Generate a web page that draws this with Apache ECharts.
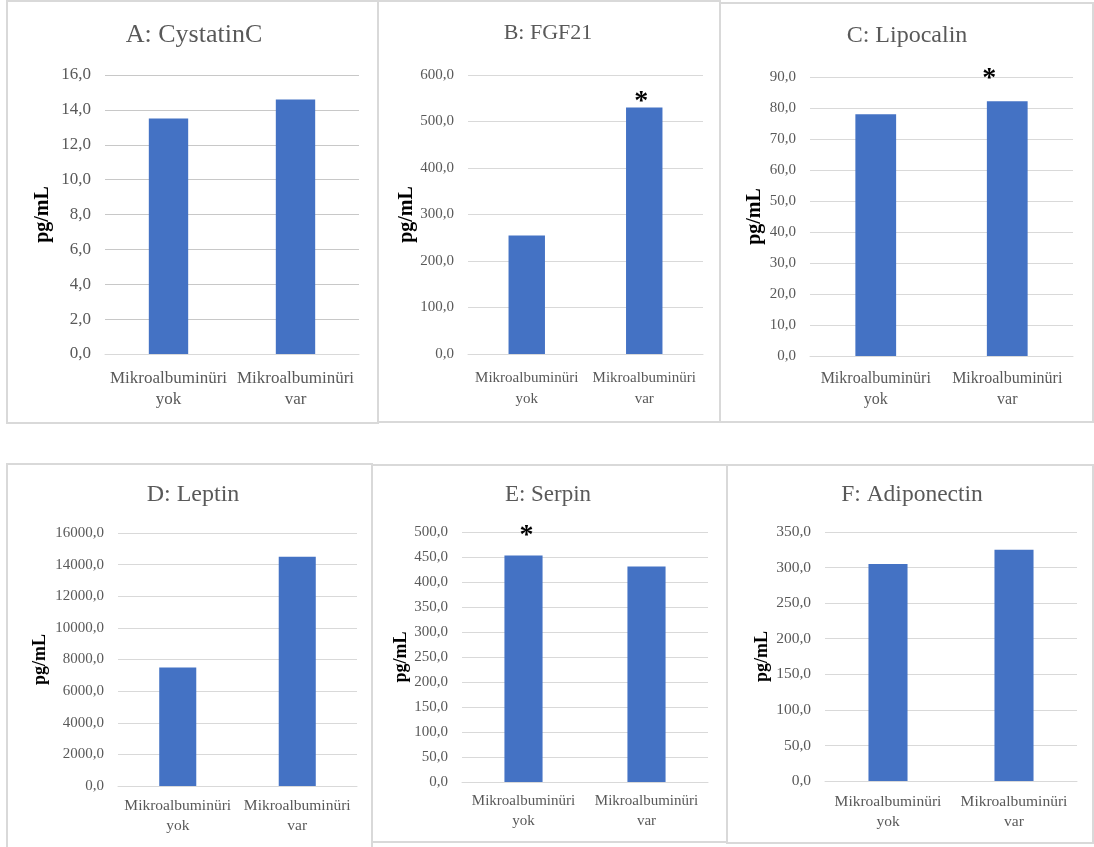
<!DOCTYPE html>
<html>
<head>
<meta charset="utf-8">
<script src="https://cdn.jsdelivr.net/npm/echarts@6/dist/echarts.min.js"></script>
<style>
html,body{margin:0;padding:0;background:#fff;}
#chart{width:1094px;height:847px;}
</style>
</head>
<body>
<div id="chart"></div>
<script>
// ---- data ----
const categories = ['Mikroalbuminüri\nyok', 'Mikroalbuminüri\nvar'];
const titles = ['A: CystatinC', 'B: FGF21', 'C: Lipocalin', 'D: Leptin', 'E: Serpin', 'F: Adiponectin'];
const cystatinC = [13.5, 14.6];
const fgf21 = [255, 530];
const lipocalin = [78.0, 82.2];
const leptin = [7500, 14500];
const serpin = [453, 431];
const adiponectin = [305, 325];
// significance marks (true = asterisk above bar)
const sigA = [false, false];
const sigB = [false, true];
const sigC = [false, true];
const sigD = [false, false];
const sigE = [true, false];
const sigF = [false, false];
// y-axis ticks: [max, interval]
const yMax = [16, 600, 90, 16000, 500, 350];
const yInterval = [2, 100, 10, 2000, 50, 50];
const yName = 'pg/mL';

const seriesValues = [cystatinC, fgf21, lipocalin, leptin, serpin, adiponectin];
const sigs = [sigA, sigB, sigC, sigD, sigE, sigF];

// ---- layout / style (not data) ----
const panels = [
  {box:[7,1,378,423],   grid:[105,75,254,279],  title:[194,35,26], tick:17, xl:17, xlh:21, xm:14, name:20, nameGap:52, star:{dist:-8, dx:-3}},
  {box:[378,1,720,422], grid:[468,75,235,279],  title:[548,33,22], tick:15, xl:15, xlh:21, xm:14, name:20, nameGap:46, star:{dist:-8, dx:-3}},
  {box:[720,3,1093,422],grid:[810,77,263,279],  title:[907,36,24], tick:15, xl:16, xlh:21, xm:12, name:20, nameGap:45, star:{dist:8, dx:-18}},
  {box:[7,464,372,852], grid:[118,533,239,253], title:[193,495,24], tick:15, xl:15.5, xlh:20, xm:10, name:18, nameGap:69, star:{dist:6, dx:3}},
  {box:[372,465,727,842],grid:[462,532,246,250],title:[548,495,23], tick:15, xl:15, xlh:20, xm:9.5, name:18, nameGap:49, star:{dist:6, dx:3}},
  {box:[727,465,1093,843],grid:[825,532,252,249],title:[912,495,23.5], tick:15.5, xl:15.5, xlh:20, xm:11, name:18, nameGap:54, star:{dist:6, dx:3}}
];

const FONT = '"Liberation Serif", "Times New Roman", serif';
const fmt = v => v.toFixed(1).replace('.', ',');

const option = {
  backgroundColor: '#ffffff',
  animation: false,
  title: [], grid: [], xAxis: [], yAxis: [], series: [],
  graphic: []
};

panels.forEach((p, i) => {
  option.graphic.push({
    type: 'rect', z: -10,
    shape: {x: p.box[0], y: p.box[1], width: p.box[2]-p.box[0], height: p.box[3]-p.box[1]},
    style: {fill: 'none', stroke: '#d9d9d9', lineWidth: 2}
  });
  option.title.push({
    text: titles[i], left: p.title[0], top: p.title[1] - p.title[2]/2, textAlign: 'center', padding: 0,
    textStyle: {fontFamily: FONT, fontSize: p.title[2], lineHeight: p.title[2], fontWeight: 'normal', color: '#595959'}
  });
  option.grid.push({left: p.grid[0], top: p.grid[1], width: p.grid[2], height: p.grid[3], containLabel: false});
  option.xAxis.push({
    type: 'category', gridIndex: i, data: categories,
    axisLine: {show: true, lineStyle: {color: '#d9d9d9', width: 1}},
    axisTick: {show: false},
    axisLabel: {fontFamily: FONT, fontSize: p.xl, lineHeight: p.xlh, color: '#595959', margin: p.xm, interval: 0}
  });
  option.yAxis.push({
    type: 'value', gridIndex: i, min: 0, max: yMax[i], interval: yInterval[i],
    name: yName, nameLocation: 'middle', nameGap: p.nameGap, nameRotate: 90,
    nameTextStyle: {fontFamily: FONT, fontSize: p.name, fontWeight: 'bold', color: '#000'},
    axisLine: {show: false}, axisTick: {show: false},
    axisLabel: {fontFamily: FONT, fontSize: p.tick, color: '#595959', margin: 14, formatter: fmt},
    splitLine: {show: true, lineStyle: {color: i === 0 ? '#c8c8c8' : '#d9d9d9', width: 1}}
  });
  option.series.push({
    type: 'bar', xAxisIndex: i, yAxisIndex: i,
    barCategoryGap: '69%',
    itemStyle: {color: '#4472C4'},
    data: seriesValues[i].map((v, j) => sigs[i][j] ? {
      value: v,
      label: {show: true, position: 'top', distance: p.star.dist, offset: [p.star.dx, 0], formatter: '*',
              fontFamily: FONT, fontSize: 28, fontWeight: 'bold', color: '#000'}
    } : v)
  });
});

const chart = echarts.init(document.getElementById('chart'), null, {renderer: 'canvas'});
chart.setOption(option);
</script>
</body>
</html>
